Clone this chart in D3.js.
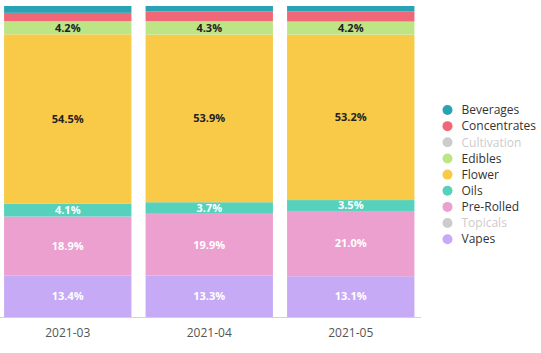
<!DOCTYPE html>
<html>
<head>
<meta charset="utf-8">
<script src="https://cdn.jsdelivr.net/npm/d3@7"></script>
<style>
  body { margin: 0; background: #fff; font-family: "Open Sans", sans-serif; }
  svg { display: block; }
</style>
</head>
<body>
<svg id="chart" width="541" height="353"></svg>
<script>
// months on the x axis
const months = ['2021-03', '2021-04', '2021-05'];

// categories in legend order (top of stack first)
const categories = ['Beverages', 'Concentrates', 'Cultivation', 'Edibles', 'Flower',
    'Oils', 'Pre-Rolled', 'Topicals', 'Vapes'];
const colors = ['#29a2b3', '#f06878', '#cccccc', '#bde586', '#f9ca48',
    '#56d1bc', '#eca0d0', '#cccccc', '#c6aaf5'];
// greyed out legend entries (no data)
const inactive = ['Cultivation', 'Topicals'];

// share of sales in percent, one array per category, by month
const beverages    = [2.2, 1.8, 1.8];
const concentrates = [2.7, 3.1, 3.2];
const cultivation  = [0, 0, 0];
const edibles      = [4.2, 4.3, 4.2];
const flower       = [54.5, 53.9, 53.2];
const oils         = [4.1, 3.7, 3.5];
const preRolled    = [18.9, 19.9, 21.0];
const topicals     = [0, 0, 0];
const vapes        = [13.4, 13.3, 13.1];

const seriesValues = [beverages, concentrates, cultivation, edibles, flower,
    oils, preRolled, topicals, vapes];

// labels are hidden on thin segments
const labelMin = 3.4;
const darkLabels = ['Edibles', 'Flower'];

let rows = months.map(function(m, i){
    let row = {month: m};
    categories.forEach(function(c, j){ row[c] = seriesValues[j][i]; });
    return row;
});

let svg = d3.select('#chart');

let x = d3.scaleBand()
    .domain(months)
    .range([-3, 421.5])
    .paddingInner(0.1)
    .paddingOuter(0.05);

let y = d3.scaleLinear()
    .domain([0, 100])
    .range([317, 6]);

let color = d3.scaleOrdinal().domain(categories).range(colors);

// stack from the bottom: Vapes first
let stack = d3.stack()
    .keys(categories.slice().reverse());
let stacked = stack(rows);

let layers = svg.append('g').selectAll('g')
    .data(stacked)
    .enter()
    .append('g')
    .attr('fill', function(d){ return color(d.key); });

layers.selectAll('rect')
    .data(function(d){ return d; })
    .enter()
    .append('rect')
    .attr('x', function(d){ return x(d.data.month); })
    .attr('width', x.bandwidth())
    .attr('y', function(d){ return y(d[1]); })
    .attr('height', function(d){ return y(d[0]) - y(d[1]); });

layers.each(function(layer){
    let key = layer.key;
    d3.select(this).selectAll('text')
        .data(layer.filter(function(d){ return d[1] - d[0] >= labelMin; }))
        .enter()
        .append('text')
        .attr('x', function(d){ return x(d.data.month) + x.bandwidth() / 2; })
        .attr('y', function(d){ return (y(d[0]) + y(d[1])) / 2; })
        .attr('dy', '0.35em')
        .attr('text-anchor', 'middle')
        .attr('font-size', 11)
        .attr('font-weight', 'bold')
        .attr('fill', darkLabels.includes(key) ? '#222' : '#fff')
        .text(function(d){ return (d[1] - d[0]).toFixed(1) + '%'; });
});

// x axis
svg.append('line')
    .attr('x1', 0).attr('x2', 421)
    .attr('y1', 317.5).attr('y2', 317.5)
    .attr('stroke', '#ccd2e6');

svg.append('g').selectAll('text')
    .data(months)
    .enter()
    .append('text')
    .attr('x', function(d){ return x(d) + x.bandwidth() / 2; })
    .attr('y', 337)
    .attr('text-anchor', 'middle')
    .attr('font-size', 12)
    .attr('fill', '#555')
    .text(function(d){ return d; });

// legend
let legend = svg.append('g').selectAll('g')
    .data(categories)
    .enter()
    .append('g')
    .attr('transform', function(d, i){ return 'translate(447.5,' + (110 + i * 16.15) + ')'; });

legend.append('circle')
    .attr('r', 5)
    .attr('fill', function(d){ return color(d); });

legend.append('text')
    .attr('x', 14)
    .attr('dy', '0.35em')
    .attr('font-size', 12)
    .attr('fill', function(d){ return inactive.includes(d) ? '#ccc' : '#333'; })
    .text(function(d){ return d; });
</script>
</body>
</html>
